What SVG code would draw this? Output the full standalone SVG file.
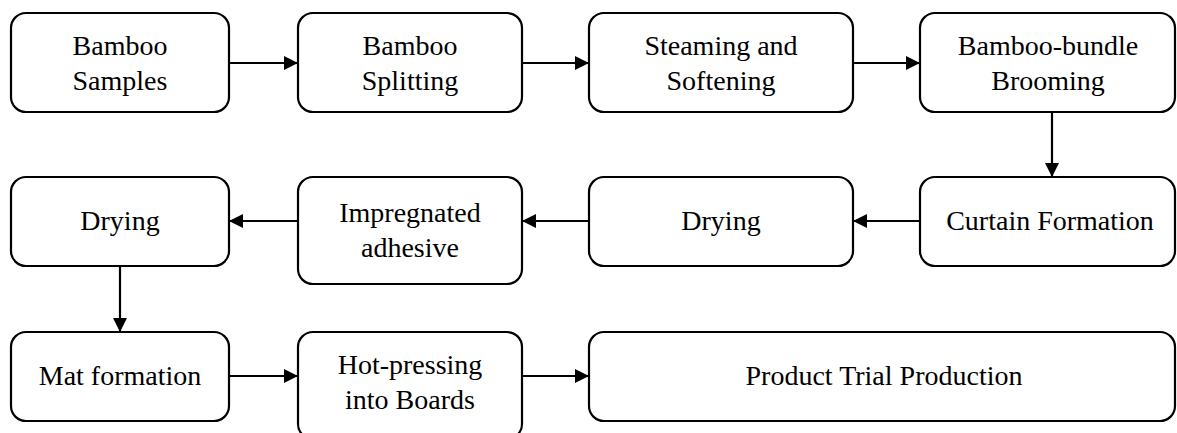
<svg xmlns="http://www.w3.org/2000/svg" width="1177" height="433" viewBox="0 0 1177 433">
<style>
.box{fill:#fff;stroke:#000;stroke-width:2.2}
.lbl{font-family:"Liberation Serif","Times New Roman",serif;font-size:28px;fill:#000;text-anchor:middle}
.conn line{stroke:#000;stroke-width:2.2;marker-end:url(#ah)}
</style>
<defs>
<marker id="ah" markerUnits="userSpaceOnUse" markerWidth="15" markerHeight="15" refX="14" refY="7" orient="auto">
<path d="M0,0 L14,7 L0,14 z" fill="#000"/>
</marker>
</defs>
<rect width="1177" height="433" fill="#fff"/>
<g id="n1"><rect class="box" x="11" y="13" width="218" height="99" rx="15"/><text class="lbl" x="120" y="55">Bamboo</text><text class="lbl" x="120" y="90">Samples</text></g>
<g id="n2"><rect class="box" x="298" y="13" width="224" height="99" rx="15"/><text class="lbl" x="410" y="55">Bamboo</text><text class="lbl" x="410" y="90">Splitting</text></g>
<g id="n3"><rect class="box" x="589" y="13" width="264" height="99" rx="15"/><text class="lbl" x="721" y="55">Steaming and</text><text class="lbl" x="721" y="90">Softening</text></g>
<g id="n4"><rect class="box" x="920" y="13" width="255" height="99" rx="15"/><text class="lbl" x="1048" y="55">Bamboo-bundle</text><text class="lbl" x="1048" y="90">Brooming</text></g>
<g id="n5"><rect class="box" x="920" y="177" width="255" height="89" rx="15"/><text class="lbl" x="1050" y="230">Curtain Formation</text></g>
<g id="n6"><rect class="box" x="589" y="177" width="264" height="89" rx="15"/><text class="lbl" x="721" y="230">Drying</text></g>
<g id="n7"><rect class="box" x="298" y="177" width="224" height="107" rx="15"/><text class="lbl" x="410" y="222">Impregnated</text><text class="lbl" x="410" y="257">adhesive</text></g>
<g id="n8"><rect class="box" x="11" y="177" width="218" height="89" rx="15"/><text class="lbl" x="120" y="230">Drying</text></g>
<g id="n9"><rect class="box" x="11" y="332" width="218" height="89" rx="15"/><text class="lbl" x="120" y="385">Mat formation</text></g>
<g id="n10"><rect class="box" x="298" y="332" width="224" height="107" rx="15"/><text class="lbl" x="410" y="374">Hot-pressing</text><text class="lbl" x="410" y="409">into Boards</text></g>
<g id="n11"><rect class="box" x="589" y="332" width="586" height="89" rx="15"/><text class="lbl" x="884" y="385">Product Trial Production</text></g>
<g class="conn" id="connectors">
<line x1="229" y1="63" x2="298" y2="63"/>
<line x1="522" y1="63" x2="589" y2="63"/>
<line x1="853" y1="63" x2="920" y2="63"/>
<line x1="1052" y1="112" x2="1052" y2="177"/>
<line x1="920" y1="221" x2="853" y2="221"/>
<line x1="589" y1="221" x2="522" y2="221"/>
<line x1="298" y1="221" x2="229" y2="221"/>
<line x1="120" y1="266" x2="120" y2="332"/>
<line x1="229" y1="376" x2="298" y2="376"/>
<line x1="522" y1="376" x2="589" y2="376"/>
</g>
</svg>
